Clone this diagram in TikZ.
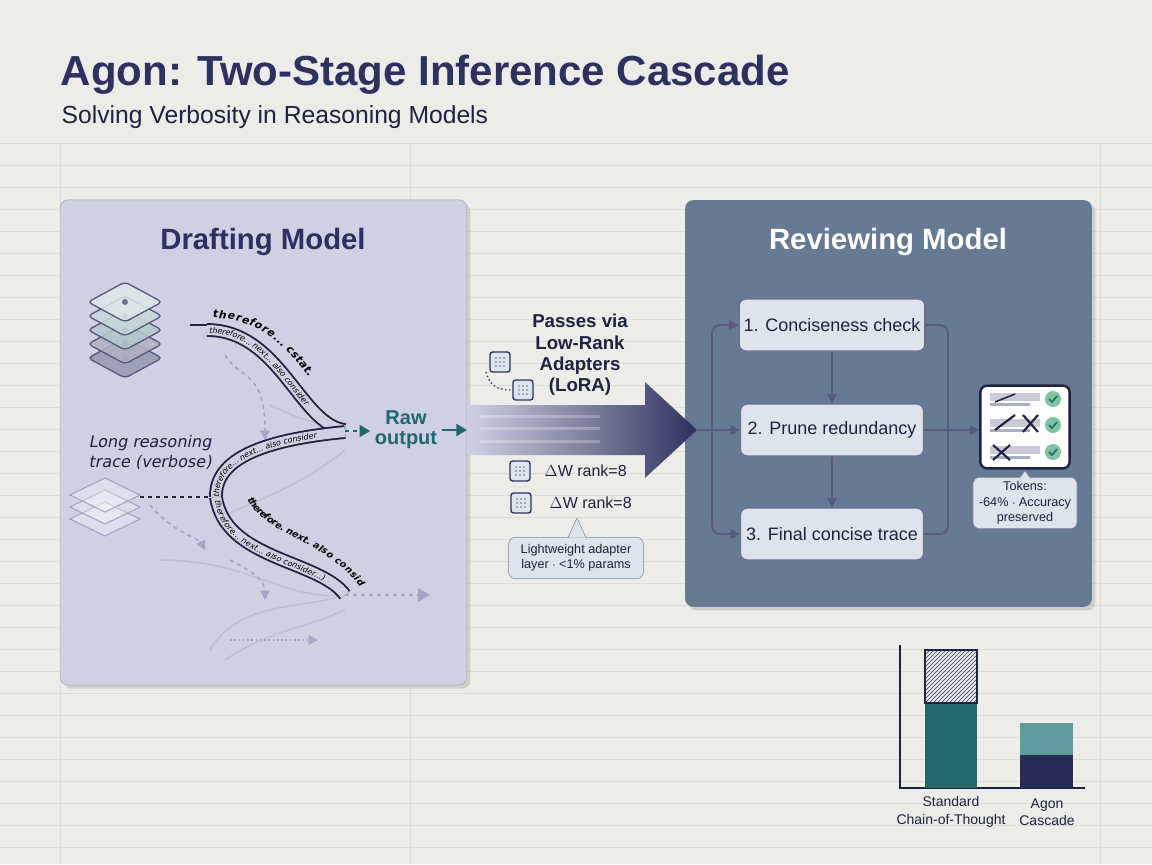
\documentclass[tikz,border=0pt]{standalone}
\usepackage{fontspec}
\setmainfont{Liberation Sans}
\newfontfamily\hand{DejaVu Sans}[FakeSlant=0.2]
\usetikzlibrary{arrows.meta,decorations.text,patterns,shadows,calc}
\definecolor{bg}{HTML}{ECECE8}
\definecolor{gridc}{HTML}{DCDCD8}
\definecolor{draftc}{HTML}{CFD0E3}
\definecolor{revc}{HTML}{667A93}
\definecolor{navy}{HTML}{2E3160}
\definecolor{ink}{HTML}{1F2240}
\definecolor{stepc}{HTML}{DDE4EC}
\definecolor{teal}{HTML}{22686C}
\definecolor{lteal}{HTML}{5F9A9C}
\definecolor{faint}{HTML}{A3A6C4}
\definecolor{okc}{HTML}{7FC3A0}
\tikzset{
 px/.style={x=0.75pt,y=-0.75pt},
 stepbox/.style={draw=navy!70,line width=1pt,fill=stepc,rounded corners=5pt,minimum width=137.25pt,minimum height=39pt,font=\fontsize{13.5}{15}\selectfont,text=ink},
 flow/.style={draw=navy!80,line width=1.3pt,-{Triangle[length=7pt,width=7pt]}},
 band/.style={draw=ink,line width=1.4pt,double=draftc,double distance=7.5pt},
 faintarr/.style={draw=faint,line width=1.2pt,dashed,-{Triangle[length=7pt,width=7pt]}},
 gridicon/.style={draw=navy,line width=1pt,fill=stepc,rounded corners=2pt,minimum size=15pt,inner sep=0pt},
 lbl/.style={fill=stepc,draw=navy!60,rounded corners=5pt,align=center,font=\fontsize{9.5}{11}\selectfont,text=ink}
}
\begin{document}
\begin{tikzpicture}[px]
\useasboundingbox (0,0) rectangle (1152,864);
\fill[bg] (0,0) rectangle (1152,864);
\foreach \y in {143,165,...,864} \draw[gridc,line width=0.6pt] (0,\y) -- (1152,\y);
\foreach \x in {60,410,1100} \draw[gridc,line width=0.6pt] (\x,143) -- (\x,864);
% title
\node[anchor=west,font=\fontsize{31.5}{34}\selectfont\bfseries,text=navy] (title) at (56,75) {Agon: Two-Stage Inference Cascade};
\node[anchor=west,font=\fontsize{18.5}{20}\selectfont,text=ink] (sub) at (57,117) {Solving Verbosity in Reasoning Models};
% panels
\node[draw=draftc!80!black,fill=draftc,rounded corners=6pt,minimum width=305pt,minimum height=364pt,drop shadow={opacity=0.25}] (draft) at (263.5,442.5) {};
\node[fill=revc,rounded corners=6pt,minimum width=305pt,minimum height=305pt,drop shadow={opacity=0.25}] (rev) at (888.5,403.5) {};
\node[font=\fontsize{22}{24}\selectfont\bfseries,text=navy] (dt) at (263,242) {Drafting Model};
\node[font=\fontsize{22}{24}\selectfont\bfseries,text=white] (rt) at (888,242) {Reviewing Model};
% layer stacks
\foreach \i/\c in {4/navy!50,3/navy!38,2/teal!35,1/teal!25,0/teal!15}{
 \draw[navy!80,line width=1pt,fill=\c,fill opacity=0.85,rounded corners=3pt] (125,{302+14*\i-20}) -- (162,{302+14*\i}) -- (125,{302+14*\i+20}) -- (88,{302+14*\i}) -- cycle;
 \fill[navy!70] (125,{302+14*\i}) circle (3);
}
\foreach \i in {2,1,0}{
 \draw[faint,line width=0.8pt,fill=white,fill opacity=0.3] (105,{495+12*\i-17}) -- (140,{495+12*\i}) -- (105,{495+12*\i+17}) -- (70,{495+12*\i}) -- cycle;
}
\node[font=\hand\fontsize{12}{15}\selectfont,align=left,text=ink,anchor=west] (lrt) at (84,452) {Long reasoning\\trace (verbose)};
% faint background strands
\draw[faint!70,line width=1.2pt] (160,560) .. controls (250,560) and (280,600) .. (345,595);
\draw[faint!70,line width=1.2pt] (210,650) .. controls (240,600) and (300,610) .. (345,595);
\draw[faint!70,line width=1.2pt] (225,660) .. controls (270,630) and (300,630) .. (345,610);
\draw[faint!70,line width=1.2pt] (270,405) .. controls (300,420) and (320,425) .. (345,428);
\draw[faint!70,line width=1.2pt] (225,515) .. controls (260,500) and (310,480) .. (345,450);
\draw[faintarr] (225,355) .. controls (240,380) and (265,370) .. (265,440);
\draw[faintarr] (150,505) .. controls (170,530) and (200,540) .. (205,550);
\draw[faintarr] (230,560) .. controls (250,570) and (265,580) .. (265,600);
\draw[faintarr,dotted] (230,640) .. controls (250,640) and (270,640) .. (318,640);
% main bands
\draw[ink,line width=1.6pt] (190,325) -- (207,325);
\draw[ink,line width=1.6pt,dashed] (140,497) -- (210,497);
\draw[band] (207,330) .. controls (280,330) and (300,425) .. (345,430);
\draw[band] (345,432) .. controls (260,440) and (215,460) .. (216,497);
\draw[band] (216,497) .. controls (225,560) and (320,560) .. (345,595);
\path[decorate,decoration={text along path,raise=9pt,text={|\hand\fontsize{8}{9}\selectfont\bfseries|therefore... cstat.}}] (212,330) .. controls (280,330) and (300,400) .. (330,418);
\path[decorate,decoration={text along path,raise=-2.3pt,text={|\hand\fontsize{6}{7}\selectfont|therefore... next... also consider}}] (209,330) .. controls (280,330) and (300,425) .. (345,430);
\path[decorate,decoration={text along path,raise=-2.3pt,text={|\hand\fontsize{6}{7}\selectfont|therefore... next... also consider}}] (216,497) .. controls (215,460) and (260,440) .. (345,432);
\path[decorate,decoration={text along path,raise=8pt,text={|\hand\fontsize{7}{8}\selectfont\bfseries|therefore. next. also consider}}] (238,505) .. controls (260,545) and (320,550) .. (350,592);
\path[decorate,decoration={text along path,raise=-2.3pt,text={|\hand\fontsize{6}{7}\selectfont|therefore... next... also consider...)}}] (218,500) .. controls (225,560) and (320,560) .. (345,595);
% raw output
\coordinate (j1) at (345,431);
\coordinate (j2) at (345,595);
\node[font=\fontsize{15}{15}\selectfont\bfseries,text=teal,align=center] (raw) at (406,430) {Raw\\output};
\draw[teal,line width=1.6pt,dashed,-{Triangle[length=8pt,width=9pt]}] (j1) -- (raw.west |- j1);
\coordinate (bigstart) at (467,430);
\draw[teal,line width=1.6pt,-{Triangle[length=8pt,width=9pt]}] (raw.east) -- (bigstart);
\coordinate (lowend) at (430,595);
\draw[faint,line width=1.6pt,dashed,-{Triangle[length=9pt,width=10pt]}] (j2) -- (lowend);
% big arrow
\shade[left color=draftc,right color=navy,middle color=navy!60] (467,405) -- (645,405) -- (645,382) -- (697,430) -- (645,478) -- (645,455) -- (467,455) -- cycle;
\foreach \y in {415,427,440} \fill[white,opacity=0.25] (480,\y) rectangle (600,\y+3);
\coordinate (bigtip) at (697,430);
% LoRA label
\node[font=\fontsize{14}{16}\selectfont\bfseries,text=ink,align=center] (lora) at (580,355) {Passes via\\Low-Rank\\Adapters\\(LoRA)};
\node[gridicon] (g1) at (500,362) {};
\node[gridicon] (g2) at (523,390) {};
\foreach \n in {g1,g2} \foreach \a in {-4,0,4} \foreach \b in {-4,0,4} \fill[navy!70] ($(\n)+(\a,\b)$) circle (0.8);
\draw[navy,dotted,line width=1pt] (486,372) .. controls (490,388) and (500,390) .. (g2.west);
\node[gridicon] (g3) at (520,471) {};
\node[gridicon] (g4) at (521,503) {};
\foreach \n in {g3,g4} \foreach \a in {-4,0,4} \foreach \b in {-4,0,4} \fill[navy!70] ($(\n)+(\a,\b)$) circle (0.8);
\node[font=\fontsize{12}{14}\selectfont,text=ink,anchor=west] (dw1) at (540,471) {$\Delta$W rank=8};
\node[font=\fontsize{12}{14}\selectfont,text=ink,anchor=west] (dw2) at (545,503) {$\Delta$W rank=8};
\node[lbl,minimum width=101pt,minimum height=31pt] (lw) at (576,558) {Lightweight adapter\\layer $\cdot$ <1\% params};
\draw[navy!60,fill=stepc] (568,537.5) -- (577,518) -- (586,537.5);
% steps
\node[stepbox] (s1) at (832,325) {1. Conciseness check};
\node[stepbox] (s2) at (832,430) {2. Prune redundancy};
\node[stepbox] (s3) at (832,534) {3. Final concise trace};
\coordinate (lb) at (712,430);
\draw[navy!80,line width=1.3pt] (bigtip) -- (lb);
\draw[flow,rounded corners=6pt] (lb) |- (s1.west);
\draw[flow] (lb) -- (s2.west);
\draw[flow,rounded corners=6pt] (lb) |- (s3.west);
\draw[flow] (s1) -- (s2);
\draw[flow] (s2) -- (s3);
\coordinate (rb) at (948,430);
\draw[navy!80,line width=1.3pt,rounded corners=6pt] (s1.east) -| (rb);
\draw[navy!80,line width=1.3pt,rounded corners=6pt] (s3.east) -| (rb);
\draw[navy!80,line width=1.3pt] (s2.east) -- (rb);
% result card
\node[draw=ink,line width=1.8pt,fill=white,rounded corners=5pt,minimum width=67pt,minimum height=62pt] (card) at (1025,427) {};
\draw[flow] (rb) -- (card.west |- rb);
\foreach \y in {399,425,452}{
 \fill[navy!25] (990,\y-6) rectangle (1040,\y+2);
 \fill[navy!40] (990,\y+4) rectangle (1030,\y+7);
 \fill[okc] (1053,\y) circle (8);
 \draw[teal,line width=1.2pt] (1049,\y) -- (1052,\y+3) -- (1057,\y-3);
}
\draw[ink,line width=1.2pt] (995,402) -- (1015,394);
\draw[ink,line width=1.6pt] (995,430) -- (1015,415) (1023,415) -- (1038,432) (1023,432) -- (1038,415);
\draw[ink,line width=1.6pt] (993,445) -- (1010,460) (993,460) -- (1010,445);
\node[lbl,minimum width=78pt,minimum height=37pt,font=\fontsize{9.5}{11.5}\selectfont] (tok) at (1025,503) {Tokens:\\-64\% $\cdot$ Accuracy\\preserved};
\draw[navy!60,fill=stepc] (1019,478.6) -- (1025,471) -- (1031,478.6);
% chart
\coordinate (ax0) at (900,788);
\draw[ink,line width=1.8pt] (900,645) -- (ax0) -- (1085,788);
\fill[teal] (925,703) rectangle (977,788);
\draw[ink,line width=1pt,pattern=north east lines,pattern color=navy] (925,650) rectangle (977,703);
\fill[lteal] (1020,723) rectangle (1073,755);
\fill[navy!90!black] (1020,755) rectangle (1073,788);
\node[font=\fontsize{10.5}{13}\selectfont,text=ink,align=center] (c1) at (951,812) {Standard\\Chain-of-Thought};
\node[font=\fontsize{10.5}{13}\selectfont,text=ink,align=center] (c2) at (1047,812) {Agon\\Cascade};
\end{tikzpicture}
\end{document}
